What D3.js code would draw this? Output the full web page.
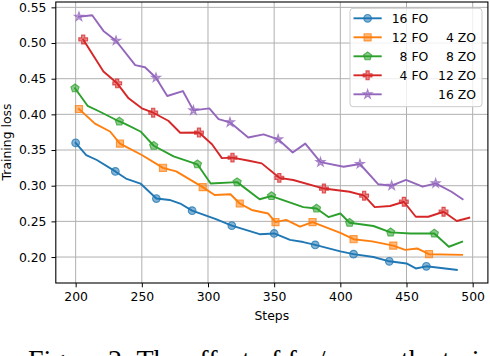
<!DOCTYPE html>
<html><head><meta charset="utf-8">
<script src="https://cdn.jsdelivr.net/npm/d3@7"></script>
<style>body{margin:0;background:#fff;} svg{display:block;}</style>
</head><body>
<svg id="c" width="490" height="356"></svg>
<script>
// ---- data ----
const fo16Steps = [200,208,216,230,238,249,261,271,279,288,306,318,339,350,362,372,381,400,410,425,437,450,457,465,488];
const fo16Loss  = [0.360,0.343,0.336,0.320,0.310,0.303,0.282,0.280,0.275,0.265,0.253,0.244,0.232,0.233,0.224,0.221,0.217,0.208,0.204,0.200,0.194,0.191,0.184,0.187,0.182];
const fo16Marks = [200,230,261,288,318,350,381,410,437,465];

const fo12Steps = [202.5,214.6,226,233.5,250,266,276,296,305,317,324,333,345.5,351,359,369.5,379,400,410,424,440,449,458,467,492];
const fo12Loss  = [0.4075,0.387,0.376,0.359,0.343,0.325,0.320,0.298,0.287,0.288,0.275,0.266,0.261,0.249,0.252,0.2425,0.249,0.234,0.225,0.222,0.216,0.210,0.212,0.204,0.203];
const fo12Marks = [202.5,233.5,266,296,324,351,379,410,440,467];

const fo8Steps = [199.5,209,218,233,237,249,259,274,292,302,322,339,348,372,382,391,400,407,425,438,453,471,482,492];
const fo8Loss  = [0.4365,0.412,0.404,0.390,0.387,0.376,0.356,0.341,0.330,0.303,0.305,0.281,0.2855,0.270,0.268,0.256,0.261,0.248,0.2435,0.2346,0.233,0.233,0.2144,0.2214];
const fo8Marks = [199.5,233,259,292,322,348,382,407,438,471];

const fo4Steps = [205.7,221,231.4,240,250,258.6,270,279,293.2,303,310.5,318.5,331,340.6,353.9,364.4,387.6,407,418,426,437.6,448,457,466.5,478,488,497.4];
const fo4Loss  = [0.505,0.460,0.4435,0.4225,0.4085,0.4023,0.391,0.3742,0.3745,0.358,0.3387,0.3394,0.335,0.3313,0.311,0.308,0.296,0.2915,0.286,0.270,0.2715,0.2775,0.2565,0.2565,0.2635,0.2505,0.2551];
const fo4Marks = [205.7,231.4,258.6,293.2,318.5,353.9,387.6,418,448,478];

const zo16Steps = [202.5,212.5,221,230.5,245,252.4,260.7,269.2,281,289,301,308,316.6,330.4,342,353,364,373.5,385,402.5,414.8,428.7,438.8,449.6,462.2,472,484,492.4];
const zo16Loss  = [0.5368,0.539,0.517,0.5032,0.469,0.466,0.4513,0.4257,0.4327,0.4056,0.4084,0.3934,0.3888,0.3675,0.372,0.365,0.3465,0.359,0.333,0.3266,0.3304,0.302,0.300,0.308,0.2986,0.3033,0.2915,0.281];
const zo16Marks = [202.5,230.5,260.7,289,316.6,353,385,414.8,438.8,472];

const seriesNames = ["16 FO","12 FO","8 FO","4 FO",""];
const seriesZO    = ["","4 ZO","8 ZO","12 ZO","16 ZO"];
const colors = ["#1f77b4","#ff7f0e","#2ca02c","#d62728","#9467bd"];
const xTicks = [200,250,300,350,400,450,500];
const yTicks = [0.20,0.25,0.30,0.35,0.40,0.45,0.50,0.55];

const series = [
  {steps:fo16Steps, loss:fo16Loss, marks:fo16Marks, sym:d3.symbolCircle, size:46},
  {steps:fo12Steps, loss:fo12Loss, marks:fo12Marks, sym:d3.symbolSquare, size:50},
  {steps:fo8Steps,  loss:fo8Loss,  marks:fo8Marks,  sym:"pentagon", size:46},
  {steps:fo4Steps,  loss:fo4Loss,  marks:fo4Marks,  sym:"plus", size:46},
  {steps:zo16Steps, loss:zo16Loss, marks:zo16Marks, sym:d3.symbolStar, size:26}
];

// ---- chart ----
const svg = d3.select("#c");
const L = 55.8, R = 487.9, T = 2, B = 283;
const x = d3.scaleLinear().domain([185, 511.5]).range([L, R]);
const y = d3.scaleLinear().domain([0.1636, 0.5575]).range([B, T]);
const font = "DejaVu Sans, sans-serif";

// grid
const g = svg.append("g");
g.selectAll(".gx").data(xTicks).enter().append("line")
  .attr("x1", d=>x(d)).attr("x2", d=>x(d)).attr("y1", T).attr("y2", B)
  .attr("stroke", "#b0b0b0").attr("stroke-width", 1);
g.selectAll(".gy").data(yTicks).enter().append("line")
  .attr("x1", L).attr("x2", R).attr("y1", d=>y(d)).attr("y2", d=>y(d))
  .attr("stroke", "#b0b0b0").attr("stroke-width", 1);

// marker paths
function pentagonPath(r){
  const p=[]; for(let i=0;i<5;i++){const a=-Math.PI/2+i*2*Math.PI/5; p.push([r*Math.cos(a), r*Math.sin(a)]);}
  return "M"+p.map(q=>q.join(",")).join("L")+"Z";
}
function plusPath(r){
  const w=r*0.36;
  return `M${-w},${-r}H${w}V${-w}H${r}V${w}H${w}V${r}H${-w}V${w}H${-r}V${-w}H${-w}Z`;
}
function markerPath(s){
  if (s.sym==="pentagon") return pentagonPath(4.3);
  if (s.sym==="plus") return plusPath(4.4);
  return d3.symbol().type(s.sym).size(s.size)();
}

// lines
const line = d3.line().x(d=>x(d[0])).y(d=>y(d[1]));
series.forEach((s,i)=>{
  const pts = s.steps.map((st,k)=>[st, s.loss[k]]);
  svg.append("path").attr("d", line(pts)).attr("fill","none")
    .attr("stroke", colors[i]).attr("stroke-width", 1.9).attr("stroke-linejoin","round").attr("stroke-linecap","square");
  const mp = markerPath(s);
  s.marks.forEach(m=>{
    const k = s.steps.indexOf(m);
    svg.append("path").attr("d", mp)
      .attr("transform", `translate(${x(s.steps[k])},${y(s.loss[k])})`)
      .attr("fill", colors[i]).attr("fill-opacity", 0.55)
      .attr("stroke", colors[i]).attr("stroke-opacity", 0.75).attr("stroke-width", 1.1);
  });
});

// spines
svg.append("rect").attr("x", L).attr("y", T).attr("width", R-L).attr("height", B-T)
  .attr("fill","none").attr("stroke","#000").attr("stroke-width",1.1);

// axes ticks & labels
const xa = svg.append("g").attr("transform", `translate(0,${B})`)
  .call(d3.axisBottom(x).tickValues(xTicks).tickSize(4.3).tickPadding(5).tickFormat(d3.format("d")));
const ya = svg.append("g").attr("transform", `translate(${L},0)`)
  .call(d3.axisLeft(y).tickValues(yTicks).tickSize(4.3).tickPadding(5).tickFormat(d3.format(".2f")));
[xa, ya].forEach(a=>{
  a.select(".domain").remove();
  a.selectAll("line").attr("stroke","#000").attr("stroke-width",1);
  a.selectAll("text").attr("font-family", font).attr("font-size", "12.4px").attr("fill","#000");
});

svg.append("text").attr("x", (L+R)/2).attr("y", 320).attr("text-anchor","middle")
  .attr("font-family", font).attr("font-size","12.4px").text("Steps");
svg.append("text").attr("transform", "translate(10.5,142) rotate(-90)").attr("text-anchor","middle")
  .attr("font-family", font).attr("font-size","12.4px").text("Training loss");

// legend
const lg = svg.append("g");
lg.append("rect").attr("x", 350).attr("y", 8.3).attr("width", 132).attr("height", 98.4)
  .attr("rx", 3).attr("fill","#fff").attr("fill-opacity",0.8).attr("stroke","#cccccc").attr("stroke-width",1);
series.forEach((s,i)=>{
  const cy = 18.3 + i*19;
  lg.append("line").attr("x1",353.5).attr("x2",381.7).attr("y1",cy).attr("y2",cy)
    .attr("stroke",colors[i]).attr("stroke-width",1.9);
  lg.append("path").attr("d", markerPath(s)).attr("transform",`translate(367.6,${cy})`)
    .attr("fill", colors[i]).attr("fill-opacity", 0.55)
    .attr("stroke", colors[i]).attr("stroke-opacity", 0.75).attr("stroke-width", 1.1);
  if (seriesNames[i]) lg.append("text").attr("x",428.3).attr("y",cy+4.5).attr("text-anchor","end")
    .attr("font-family", font).attr("font-size","12.4px").text(seriesNames[i]);
  if (seriesZO[i]) lg.append("text").attr("x",476).attr("y",cy+4.5).attr("text-anchor","end")
    .attr("font-family", font).attr("font-size","12.4px").text(seriesZO[i]);
});

// caption (cut off at the bottom edge, as in the reference)
svg.append("text").attr("x", 28).attr("y", 369).attr("font-family","Liberation Serif, serif")
  .attr("font-size","28px").text("Figure 2: The effect of fo / zo on the training");
</script>
</body></html>
